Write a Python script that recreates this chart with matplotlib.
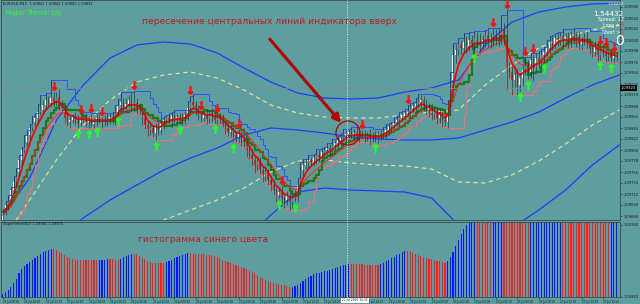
import numpy as np
import matplotlib
matplotlib.use('Agg')
import matplotlib.pyplot as plt
from matplotlib.patches import Ellipse
from matplotlib.lines import Line2D

# prices are stored in points: price = 1 + pts / 100000
close_pts = [9676, 9690, 9700, 9720, 9736, 9756, 9780, 9800, 9816, 9830,
             9844, 9856, 9864, 9876, 9880, 9890, 9900, 9894, 9904, 9896,
             9906, 9892, 9884, 9864, 9856, 9860, 9866, 9858, 9854, 9862,
             9864, 9856, 9860, 9852, 9858, 9864, 9860, 9856, 9862, 9858,
             9866, 9860, 9876, 9890, 9896, 9884, 9892, 9900, 9888, 9894,
             9884, 9880, 9864, 9850, 9840, 9844, 9834, 9846, 9840, 9852,
             9860, 9864, 9858, 9868, 9862, 9866, 9858, 9864, 9870, 9884,
             9896, 9890, 9880, 9872, 9864, 9870, 9862, 9874, 9868, 9860,
             9866, 9862, 9852, 9844, 9836, 9840, 9830, 9824, 9832, 9820,
             9816, 9800, 9790, 9780, 9770, 9776, 9760, 9750, 9756, 9740,
             9730, 9720, 9710, 9716, 9704, 9700, 9708, 9696, 9704, 9710,
             9730, 9760, 9770, 9774, 9780, 9776, 9784, 9790, 9786, 9796,
             9800, 9804, 9800, 9810, 9814, 9820, 9824, 9828, 9832, 9836,
             9830, 9834, 9828, 9832, 9830, 9826, 9830, 9822, 9828, 9824,
             9832, 9828, 9836, 9840, 9846, 9850, 9856, 9860, 9864, 9868,
             9874, 9876, 9884, 9888, 9892, 9896, 9900, 9890, 9880, 9884,
             9870, 9876, 9864, 9870, 9860, 9856, 9880, 9940, 9990, 10000,
             10010, 10004, 10016, 10008, 10020, 10012, 10024, 10016, 10010, 10020,
             10028, 10016, 10024, 10030, 10020, 10026, 10040, 10020, 9966, 9956,
             9940, 9950, 9930, 9944, 9960, 9970, 9956, 9980, 9968, 9984,
             9976, 9990, 9996, 10004, 10016, 10010, 10024, 10020, 10028, 10020,
             10024, 10016, 10030, 10020, 10026, 10012, 10018, 10024, 10014, 10004,
             9996, 10006, 9990, 10000, 9994, 9988, 9990, 9984, 9988, 9986]
first_open = 9660
wick_up = [6, 8, 10, 6, 12, 8, 10, 6, 14, 10, 8, 12, 10, 16, 30, 10, 14, 8, 36, 12,
           10, 16, 8, 6, 10, 8, 6, 10, 12, 8, 6, 10, 8, 12, 6, 8, 10, 6, 8, 12,
           8, 10, 14, 12, 20, 8, 12, 10, 16, 24, 10, 8, 6, 12, 8, 10, 6, 8, 10, 12,
           8, 6, 10, 8, 12, 6, 8, 10, 8, 14, 12, 16, 8, 10, 6, 8, 12, 6, 10, 8,
           6, 8, 10, 6, 8, 12, 6, 8, 10, 6, 8, 6, 10, 12, 8, 6, 10, 8, 12, 6,
           8, 10, 6, 8, 12, 6, 10, 8, 6, 10, 14, 16, 12, 8, 10, 6, 8, 12, 10, 8,
           6, 10, 8, 12, 6, 8, 10, 14, 8, 6, 10, 8, 12, 6, 8, 10, 6, 12, 8, 10,
           6, 8, 10, 12, 8, 6, 10, 8, 12, 10, 8, 14, 10, 8, 12, 16, 10, 8, 12, 10,
           8, 12, 10, 14, 8, 10, 20, 16, 24, 12, 14, 10, 18, 12, 16, 10, 14, 12, 18, 10,
           12, 16, 10, 14, 12, 18, 30, 14, 60, 10, 12, 8, 14, 10, 12, 16, 10, 14, 12, 10,
           14, 12, 10, 16, 12, 14, 10, 12, 8, 14, 10, 12, 8, 14, 10, 12, 8, 10, 14, 10,
           8, 12, 10, 8, 12, 10, 8, 10, 6, 8]
wick_dn = [8, 6, 10, 8, 6, 12, 8, 10, 6, 8, 10, 6, 8, 12, 6, 8, 10, 6, 8, 10,
           8, 12, 6, 10, 8, 12, 6, 8, 10, 6, 8, 10, 12, 6, 8, 10, 6, 12, 8, 10,
           6, 8, 10, 6, 12, 8, 10, 6, 8, 10, 12, 10, 14, 8, 12, 10, 8, 14, 10, 8,
           10, 8, 6, 12, 8, 10, 6, 8, 12, 10, 8, 6, 10, 12, 8, 6, 10, 8, 12, 6,
           8, 10, 6, 12, 8, 10, 14, 8, 10, 12, 10, 14, 8, 12, 16, 10, 8, 14, 12, 10,
           12, 10, 14, 8, 12, 16, 10, 16, 12, 8, 14, 10, 12, 8, 10, 6, 8, 12, 10, 8,
           10, 8, 12, 6, 10, 8, 12, 6, 10, 8, 6, 10, 8, 12, 6, 10, 8, 12, 6, 8,
           10, 8, 6, 12, 8, 10, 6, 8, 12, 6, 8, 6, 10, 8, 12, 6, 10, 12, 8, 14,
           10, 8, 12, 10, 14, 8, 12, 10, 14, 16, 10, 12, 8, 14, 10, 12, 16, 10, 12, 8,
           14, 10, 12, 16, 10, 12, 14, 10, 46, 12, 30, 14, 20, 12, 16, 10, 14, 12, 30, 10,
           12, 10, 14, 8, 12, 10, 8, 12, 10, 14, 8, 12, 10, 8, 14, 10, 12, 8, 10, 12,
           10, 8, 12, 10, 8, 12, 10, 8, 10, 8]

# histogram of the lower window
hist_vals = [3, 5, 7, 10, 14, 18, 24, 28, 31, 33,
             35, 37, 39, 41, 43, 45, 46, 47.5, 48.5, 48,
             47, 45.5, 44, 42, 40.5, 39.5, 38.5, 37.5, 37.2, 37,
             36.9, 36.8, 36.8, 36.7, 36.7, 36.7, 36.8, 37.1, 37.5, 37.9,
             37.8, 37.6, 37.5, 37.4, 38.5, 40, 41.5, 42.5, 43.2, 43.4,
             42.6, 41, 39.5, 38, 36.5, 35.2, 34.5, 34.2, 34, 34.1,
             34.2, 35, 36, 37.5, 39, 40.5, 41.5, 42.5, 43.3, 44,
             43.8, 43.5, 43.2, 43, 42.8, 42.6, 42.3, 42, 41.7, 41.2,
             40, 38.7, 37.5, 36.5, 35.5, 34.3, 33, 31.8, 30.8, 29.8,
             29, 28, 26.5, 25, 23.7, 22, 20.5, 18.8, 17.5, 16.3,
             15.2, 14.3, 13.5, 13, 12.5, 12, 11.3, 10.5, 10, 11,
             12.5, 14, 16, 18, 20, 21.5, 22.8, 23.7, 24.5, 25.2,
             25.8, 26.3, 27, 28, 29, 30, 31, 31.8, 32.5, 33,
             32.9, 32.8, 32.8, 32.7, 32.6, 32.5, 32.4, 32.3, 32.2, 32.1,
             32, 33, 34.5, 36, 37.5, 39, 40.5, 42, 43.5, 44.8,
             45.8, 46.3, 45.7, 44.5, 43.2, 42, 41, 40, 39.2, 38.4,
             37.7, 37, 36.3, 35.7, 35, 34.5, 36, 40, 45, 51,
             57, 63, 68, 72, 76, 79, 80, 80, 80, 80,
             80, 80, 80, 80, 80, 80, 80, 80, 80, 80,
             80, 80, 80, 80, 80, 80, 80, 80, 80, 80,
             80, 80, 80, 80, 80, 80, 80, 80, 80, 80,
             80, 80, 80, 80, 80, 80, 80, 80, 80, 80,
             80, 80, 80, 80, 80, 80, 80, 80, 80, 80]
# (first bar, colour) runs of the histogram
hist_runs = [(0, 'b'), (19, 'r'), (36, 'b'), (40, 'r'), (44, 'b'), (49, 'r'), (61, 'b'),
             (70, 'r'), (108, 'b'), (130, 'r'), (141, 'b'), (151, 'r'), (166, 'b'),
             (177, 'r'), (183, 'b'), (187, 'r'), (197, 'b'), (209, 'r'), (227, 'b')]

# long bands, one value every 10 bars
band_idx = [0, 10, 20, 30, 40, 50, 60, 70, 80, 90, 100, 110, 120, 130, 140, 150,
            160, 170, 180, 190, 200, 210, 220, 230]
blue_upper = [9670, 9744, 9860, 9930, 9984, 10010, 10016, 10012, 9994, 9964, 9936, 9914,
              9904, 9902, 9904, 9916, 9924, 9940, 10010, 10056, 10076, 10086, 10092, 10094]
blue_mid = [9520, 9580, 9620, 9664, 9700, 9730, 9760, 9784, 9804, 9830, 9844, 9840,
            9834, 9826, 9822, 9820, 9820, 9824, 9840, 9856, 9876, 9904, 9930, 9950]
blue_lower = [9380, 9420, 9460, 9500, 9520, 9540, 9560, 9576, 9596, 9620, 9670, 9716,
              9724, 9720, 9718, 9716, 9704, 9650, 9630, 9644, 9680, 9720, 9770, 9810]
yellow_upper = [9620, 9700, 9780, 9850, 9900, 9936, 9950, 9956, 9944, 9920, 9890, 9874,
                9866, 9864, 9864, 9870, 9876, 9880, 9930, 9970, 10004, 10026, 10040, 10050]
yellow_lower = [9450, 9500, 9540, 9582, 9610, 9636, 9660, 9680, 9700, 9724, 9756, 9778,
                9780, 9774, 9770, 9768, 9762, 9736, 9734, 9750, 9778, 9812, 9850, 9880]

red_down_bars = [19, 29, 33, 37, 49, 70, 74, 80, 88, 104, 134, 151, 183, 188, 195, 198, 223, 225, 228]
green_up_bars = [28, 32, 35, 43, 57, 66, 79, 86, 103, 109, 139, 176, 193, 196, 202, 223, 227]

price_ticks = [10086, 10064, 10042, 10020, 9998, 9976, 9954, 9932, 9910, 9888, 9866,
               9844, 9822, 9800, 9778, 9756, 9734, 9712, 9690, 9668]
time_ticks = [0, 8, 16, 24, 32, 40, 48, 56, 64, 72, 80, 88, 96, 104, 112, 120,
              136, 144, 152, 160, 168, 176, 184, 192, 200, 208, 216, 224]
time_labels = ['21 Jul 08:00', '21 Jul 10:00', '21 Jul 12:00', '21 Jul 14:00', '21 Jul 16:00',
               '21 Jul 18:00', '21 Jul 20:00', '21 Jul 22:00', '22 Jul 00:00', '22 Jul 02:00',
               '22 Jul 04:00', '22 Jul 06:00', '22 Jul 08:00', '22 Jul 10:00', '22 Jul 12:00',
               '22 Jul 14:00', '22 Jul 18:00', '22 Jul 20:00', '22 Jul 22:00',
               '23 Jul 00:00', '23 Jul 02:00', '23 Jul 04:00', '23 Jul 06:00', '23 Jul 08:00',
               '23 Jul 10:00', '23 Jul 12:00', '23 Jul 14:00', '23 Jul 16:00']
cursor_label = '22 Jul 2020 16:15'

bg = '#5f9ea0'
W, H = 640, 304


def fx(px):
    return px / W


def fy(py):
    return 1 - py / H


def ema(vals, n):
    k = 2.0 / (n + 1)
    out = [vals[0]]
    for v in vals[1:]:
        out.append(out[-1] + k * (v - out[-1]))
    return np.array(out)


close = np.array(close_pts, dtype=float)
opens = np.concatenate([[first_open], close[:-1]])
high = np.maximum(opens, close) + np.array(wick_up)
low = np.minimum(opens, close) - np.array(wick_dn)
idx = np.arange(len(close))
n = len(close)

fig = plt.figure(figsize=(6.4, 3.04), dpi=100, facecolor=bg)
ax = fig.add_axes([fx(1), fy(220), fx(619), 220 / H], facecolor=bg)
ax2 = fig.add_axes([fx(1), fy(297), fx(619), 75 / H], facecolor=bg)

# bands
ax.plot(band_idx, blue_upper, color='#1f3cff', lw=0.9)
ax.plot(band_idx, blue_mid, color='#1f3cff', lw=0.9)
ax.plot(band_idx, blue_lower, color='#1f3cff', lw=0.9)
ax.plot(band_idx, yellow_upper, color='#e8e890', lw=0.8, ls=(0, (4, 3)))
ax.plot(band_idx, yellow_lower, color='#e8e890', lw=0.8, ls=(0, (4, 3)))

# channel lines around the price
hh = np.array([high[max(0, i - 5):i + 1].max() for i in range(n)])
ll = np.array([low[max(0, i - 5):i + 1].min() for i in range(n)])
hh8 = np.array([close[max(0, i - 8):i + 1].max() for i in range(n)])
ll8 = np.array([close[max(0, i - 8):i + 1].min() for i in range(n)])
ax.step(idx, hh, where='post', color='#3050ff', lw=0.7)
ax.step(idx, ll, where='post', color='#f07070', lw=0.8)
ax.step(idx, (hh8 + ll8) / 2, where='post', color='#1c7a1c', lw=1.6)
ax.plot(idx, ema(close, 12), color='#ff2020', lw=0.7)
ax.plot(idx, ema(close, 5), color='#ff0000', lw=1.3)

# candles
up = close >= opens
ax.vlines(idx, low, high, color='#303838', lw=0.5)
ax.bar(idx, np.abs(close - opens) + 1, bottom=np.minimum(opens, close), width=0.5,
       color=np.where(up, '#f4f4f4', '#ff1a1a'), linewidth=0)

# signal arrows
rb = np.array(red_down_bars)
gb = np.array(green_up_bars)
ax.scatter(rb, high[rb] + 12, marker=r'$\downarrow$', s=30, color='#ff1010', zorder=5)
ax.scatter(gb, low[gb] - 12, marker=r'$\uparrow$', s=30, color='#22ff22', zorder=5)

ax.axhline(9924, color='#808c8c', lw=0.6)
ax.set_xlim(-0.7, 230.3)
ax.set_ylim(9660, 10100)
ax.yaxis.tick_right()
ax.set_yticks(price_ticks)
ax.set_yticklabels(['1.%05d' % (p - 10000) if p >= 10000 else '1.0%04d' % p for p in price_ticks])
ax.tick_params(axis='y', labelsize=2.6, length=1.5, width=0.4, pad=1, colors='#1a1a1a')
ax.set_xticks([])

# histogram
colors = []
for k, (start, c) in enumerate(hist_runs):
    end = hist_runs[k + 1][0] if k + 1 < len(hist_runs) else n
    colors += ['#0a14ff' if c == 'b' else '#ff1c1c'] * (end - start)
ax2.bar(idx, hist_vals, width=0.42, color=colors, linewidth=0)
ax2.set_xlim(-0.7, 230.3)
ax2.set_ylim(0, 75)
ax2.yaxis.tick_right()
ax2.set_yticks([0, 72])
ax2.set_yticklabels(['1.00810', '1.55940'])
ax2.tick_params(axis='y', labelsize=2.6, length=1.5, width=0.4, pad=1, colors='#1a1a1a')
ax2.set_xticks(time_ticks)
ax2.set_xticklabels(time_labels, ha='left')
ax2.tick_params(axis='x', labelsize=2.0, length=1.5, width=0.4, pad=0.5, colors='#1a1a1a')

for a in (ax, ax2):
    for s in a.spines.values():
        s.set_color('#3a4a4a')
        s.set_linewidth(0.6)

# texts
fig.text(fx(3), fy(4), 'EURUSD,M15  1.09841 1.09843 1.09800 1.09822', fontsize=2.6,
         color='#1a1a1a', va='center')
fig.text(fx(5), fy(12.5), 'Major Trend: Up', fontsize=5.2, color='#2cff2c', va='center')
fig.text(fx(3), fy(224.5), 'SuperTrend(50) 1.09881 1.09875', fontsize=2.6,
         color='#1a1a1a', va='center')
fig.text(fx(142), fy(22), 'пересечение центральных линий индикатора вверх', fontsize=6.6,
         color='#c41a1a', va='center')
fig.text(fx(138), fy(239), 'гистограмма синего цвета', fontsize=6.6, color='#c41a1a',
         va='center')
fig.text(fx(624), fy(4), '1.54432', fontsize=3, color='#e0f0ff', ha='right', va='center')
fig.text(fx(624), fy(13.5), '1.54432', fontsize=5.4, color='white', ha='right', va='center')
fig.text(fx(624), fy(19.5), 'Spread: 17', fontsize=3.4, color='white', ha='right', va='center')
fig.text(fx(620), fy(25), 'Long >', fontsize=3.4, color='white', ha='right', va='center')
fig.text(fx(624), fy(25), '0', fontsize=3.4, color='#ff3030', ha='right', va='center')
fig.text(fx(620), fy(32.5), 'Short >', fontsize=3.4, color='white', ha='right', va='center')
fig.text(fx(624), fy(32.5), '0', fontsize=3.4, color='#ff3030', ha='right', va='center')
fig.text(fx(624), fy(41), '0', fontsize=10, color='white', ha='right', va='center')
fig.text(fx(621), fy(88), '1.09924', fontsize=2.6, color='white', va='center',
         bbox=dict(facecolor='black', edgecolor='none', pad=0.6))
fig.text(fx(355), fy(300.5), cursor_label, fontsize=2.1, color='#1a1a1a', ha='center',
         va='center', bbox=dict(facecolor='white', edgecolor='none', pad=0.5))

# crosshair line
fig.add_artist(Line2D([fx(347), fx(347)], [fy(297), 1], transform=fig.transFigure,
                      ls=(0, (1, 1.5)), color='#e8f4f4', lw=0.7))

# arrows and circle
ax.annotate('', xy=(fx(343), fy(125)), xytext=(fx(268), fy(37)), xycoords='figure fraction',
            textcoords='figure fraction',
            arrowprops=dict(arrowstyle='-|>', color='#b00000', lw=2.2, mutation_scale=12))
ax.annotate('', xy=(fx(346), fy(264)), xytext=(fx(266), fy(241)), xycoords='figure fraction',
            textcoords='figure fraction',
            arrowprops=dict(arrowstyle='-|>', color='#b00000', lw=2.2, mutation_scale=12))
fig.add_artist(Ellipse((fx(348), fy(133)), 24 / W, 24 / H, transform=fig.transFigure,
                       fill=False, edgecolor='#b00000', lw=0.9))

fig.savefig('out.png', dpi=100, facecolor=bg)
